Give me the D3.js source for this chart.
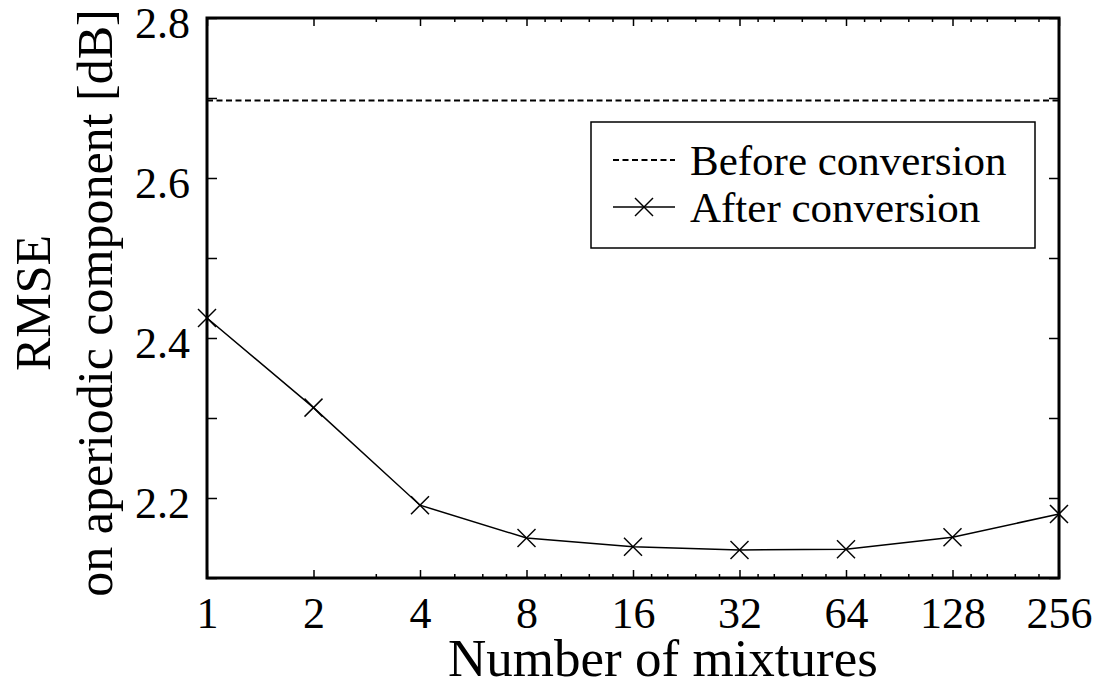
<!DOCTYPE html>
<html lang="en">
<head>
    <meta charset="UTF-8">
    <title>RMSE vs number of mixtures</title>
    <style>
        body { margin: 0; background: #fff; }
        svg text { font-family: "Liberation Serif", "Times New Roman", serif; fill: #000; }
        .axis path { display: none; }
        .axis line { stroke: #000; stroke-width: 1.5px; }
        .tick text { font-size: 44px; }
        .series { fill: none; stroke: #000; stroke-width: 1.5px; }
        .baseline { fill: none; stroke: #000; stroke-width: 2px; stroke-dasharray: 6,3.5; }
        .marker { stroke: #000; stroke-width: 1.5px; }
    </style>
</head>
<body>
<svg width="1094" height="686"></svg>
<script src="https://cdn.jsdelivr.net/npm/d3@7/dist/d3.min.js"></script>
<script>
    // mixtures (x, log2 scale)
    var mixtures = [1, 2, 4, 8, 16, 32, 64, 128, 256];
    // RMSE after conversion [dB]
    var afterValues = [2.425, 2.313, 2.191, 2.150, 2.139, 2.135, 2.136, 2.151, 2.180];
    // RMSE before conversion (constant)
    var beforeValue = 2.697;
    var xMinorTicks = [3, 5, 6, 7, 9, 10, 12, 14, 18, 20, 24, 28, 36, 40, 48, 56,
                       72, 80, 96, 112, 144, 160, 192, 224];
    var yTicks = [2.1, 2.2, 2.3, 2.4, 2.5, 2.6, 2.7, 2.8];
    var yLabels = [2.2, 2.4, 2.6, 2.8];
    var seriesNames = ["Before conversion", "After conversion"];

    var svg = d3.select("svg");
    var pL = 207, pR = 1059, pT = 18, pB = 578;

    var x = d3.scaleLog().base(2).domain([1, 256]).range([pL, pR]);
    var y = d3.scaleLinear().domain([2.1, 2.8]).range([pB, pT]);

    // ticks only, no labels
    function bare(g) {
        g.selectAll("text").remove();
    }

    // bottom axis: major ticks with labels
    svg.append("g")
        .attr("class", "axis")
        .attr("transform", "translate(0," + pB + ")")
        .call(d3.axisBottom(x).tickValues(mixtures).tickSize(-8).tickPadding(19)
            .tickFormat(d3.format("d")));

    // bottom minor ticks
    svg.append("g")
        .attr("class", "axis")
        .attr("transform", "translate(0," + pB + ")")
        .call(d3.axisBottom(x).tickValues(xMinorTicks).tickSize(-4))
        .call(bare);

    // top mirror
    svg.append("g")
        .attr("class", "axis")
        .attr("transform", "translate(0," + pT + ")")
        .call(d3.axisTop(x).tickValues(mixtures).tickSize(-8))
        .call(bare);
    svg.append("g")
        .attr("class", "axis")
        .attr("transform", "translate(0," + pT + ")")
        .call(d3.axisTop(x).tickValues(xMinorTicks).tickSize(-4))
        .call(bare);

    // left axis
    var yAxis = svg.append("g")
        .attr("class", "axis")
        .attr("transform", "translate(" + pL + ",0)")
        .call(d3.axisLeft(y).tickValues(yTicks).tickSize(-10).tickPadding(17)
            .tickFormat(d3.format(".1f")));
    yAxis.selectAll(".tick text")
        .filter(function (d) {
            return !yLabels.some(function (v) { return Math.abs(v - d) < 1e-9; });
        })
        .remove();
    yAxis.selectAll(".tick text").attr("dy", "0.45em");

    // right mirror
    svg.append("g")
        .attr("class", "axis")
        .attr("transform", "translate(" + pR + ",0)")
        .call(d3.axisRight(y).tickValues(yTicks).tickSize(-10))
        .call(bare);

    // frame
    svg.append("rect")
        .attr("x", pL).attr("y", pT)
        .attr("width", pR - pL).attr("height", pB - pT)
        .attr("fill", "none").attr("stroke", "#000").attr("stroke-width", 3);

    // before conversion dashed line
    svg.append("line")
        .attr("class", "baseline")
        .attr("x1", x(1)).attr("x2", x(256))
        .attr("y1", y(beforeValue)).attr("y2", y(beforeValue));

    // after conversion line + markers
    var pts = mixtures.map(function (m, i) { return [m, afterValues[i]]; });
    var line = d3.line()
        .x(function (d) { return x(d[0]); })
        .y(function (d) { return y(d[1]); });

    svg.append("path").attr("class", "series").attr("d", line(pts));

    function cross(g, cx, cy, s) {
        g.append("line").attr("class", "marker")
            .attr("x1", cx - s).attr("y1", cy - s).attr("x2", cx + s).attr("y2", cy + s);
        g.append("line").attr("class", "marker")
            .attr("x1", cx - s).attr("y1", cy + s).attr("x2", cx + s).attr("y2", cy - s);
    }

    var mk = svg.append("g");
    pts.forEach(function (d) { cross(mk, x(d[0]), y(d[1]), 9); });

    // legend
    var lg = svg.append("g");
    lg.append("rect")
        .attr("x", 591).attr("y", 122).attr("width", 444).attr("height", 126)
        .attr("fill", "#fff").attr("stroke", "#000").attr("stroke-width", 1.5);
    lg.append("line").attr("class", "baseline")
        .attr("x1", 613).attr("x2", 675).attr("y1", 160).attr("y2", 160);
    lg.append("line").attr("class", "series")
        .attr("x1", 613).attr("x2", 675).attr("y1", 207).attr("y2", 207);
    cross(lg, 644, 207, 9);
    lg.selectAll("text.leg")
        .data(seriesNames)
        .enter().append("text")
        .attr("class", "leg")
        .attr("x", 690)
        .attr("y", function (d, i) { return 175 + i * 47; })
        .style("font-size", "43px")
        .text(function (d) { return d; });

    // axis titles
    svg.append("text")
        .attr("x", 663)
        .attr("y", 676)
        .attr("text-anchor", "middle")
        .style("font-size", "53px")
        .text("Number of mixtures");

    var yt = svg.append("text")
        .attr("transform", "translate(0,303) rotate(-90)")
        .attr("text-anchor", "middle")
        .style("font-size", "50px");
    yt.append("tspan").attr("x", 0).attr("y", 50).text("RMSE");
    yt.append("tspan").attr("x", 0).attr("y", 112).text("on aperiodic component [dB]");
</script>
</body>
</html>
